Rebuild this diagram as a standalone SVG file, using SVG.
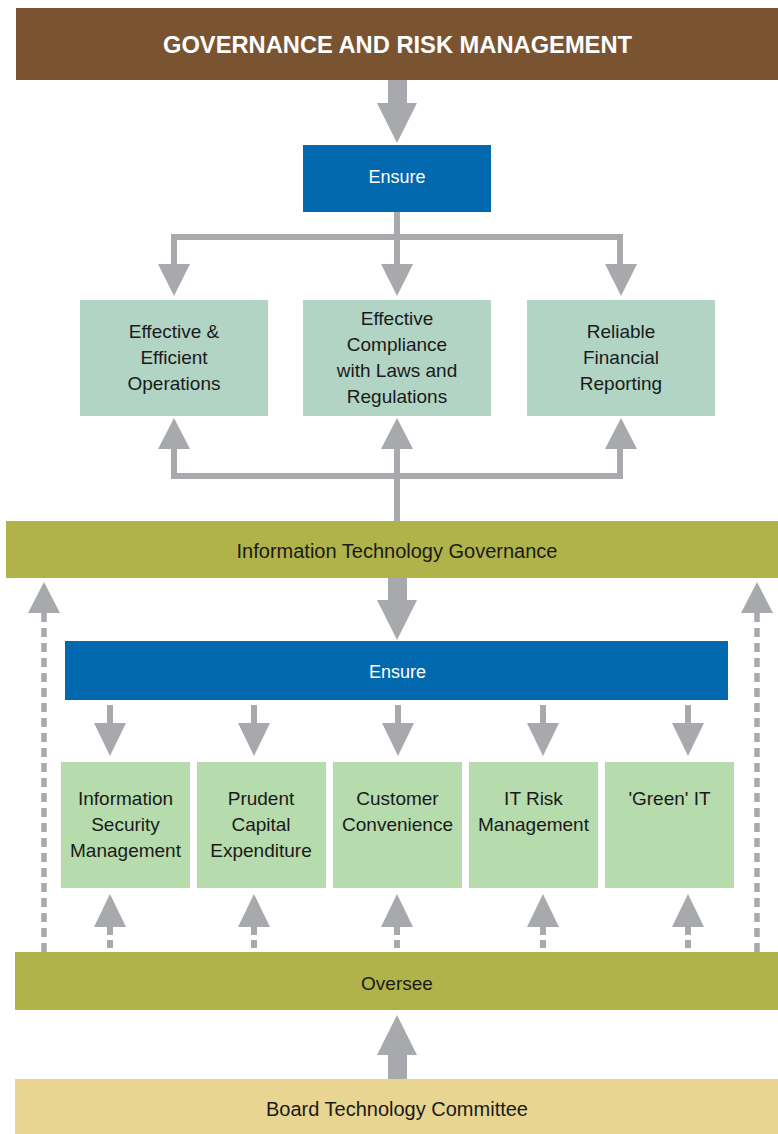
<svg xmlns="http://www.w3.org/2000/svg" width="778" height="1134" viewBox="0 0 778 1134">
<style>
.t{font-family:"Liberation Sans",Arial,sans-serif;text-anchor:middle}
.w{fill:#ffffff}
.k{fill:#1a1a1a}
.ln{stroke:#a7a9ac;stroke-width:6;fill:none}
.ds{stroke:#a7a9ac;stroke-width:5.5;fill:none;stroke-dasharray:9 6}
.ds2{stroke:#a7a9ac;stroke-width:6;fill:none;stroke-dasharray:8 5}
.hd{fill:#a7a9ac}
.mint{fill:#b1d4c5}
.lg{fill:#b6dbac}
.olive{fill:#afb34a}
.blue{fill:#0369ae}
</style>
<rect width="778" height="1134" fill="#ffffff"/>

<g id="connectors">
  <!-- governance to ensure -->
  <rect class="hd" x="388" y="80" width="19" height="24"/>
  <polygon class="hd" points="377,103 417,103 397,143"/>
  <!-- ensure to three objectives -->
  <polyline class="ln" points="174,265 174,237 620,237 620,265"/>
  <line class="ln" x1="397" y1="212" x2="397" y2="265"/>
  <polygon class="hd" points="158,264 190,264 174,296"/>
  <polygon class="hd" points="381,264 413,264 397,296"/>
  <polygon class="hd" points="605,264 637,264 621,296"/>
  <!-- ITG up to three objectives -->
  <polyline class="ln" points="174,448 174,476 620,476 620,448"/>
  <line class="ln" x1="397" y1="523" x2="397" y2="448"/>
  <polygon class="hd" points="158,449 190,449 174,418"/>
  <polygon class="hd" points="381,449 413,449 397,418"/>
  <polygon class="hd" points="605,449 637,449 621,418"/>
  <!-- ITG to ensure 2 -->
  <rect class="hd" x="388" y="578" width="19" height="23"/>
  <polygon class="hd" points="377,600 417,600 397,640"/>
  <!-- side dashed arrows -->
  <line class="ds" x1="44" y1="613" x2="44" y2="955"/>
  <polygon class="hd" points="28,613 60,613 44,582"/>
  <line class="ds" x1="757" y1="613" x2="757" y2="955"/>
  <polygon class="hd" points="741,613 773,613 757,582"/>
  <!-- ensure 2 down arrows -->
  <g>
    <line class="ln" x1="110" y1="705" x2="110" y2="724"/>
    <polygon class="hd" points="94,723 126,723 110,756"/>
    <line class="ln" x1="254" y1="705" x2="254" y2="724"/>
    <polygon class="hd" points="238,723 270,723 254,756"/>
    <line class="ln" x1="398" y1="705" x2="398" y2="724"/>
    <polygon class="hd" points="382,723 414,723 398,756"/>
    <line class="ln" x1="543" y1="705" x2="543" y2="724"/>
    <polygon class="hd" points="527,723 559,723 543,756"/>
    <line class="ln" x1="688" y1="705" x2="688" y2="724"/>
    <polygon class="hd" points="672,723 704,723 688,756"/>
  </g>
  <!-- oversee up dashed arrows -->
  <g>
    <line class="ds2" x1="110" y1="927" x2="110" y2="952"/>
    <polygon class="hd" points="94,927 126,927 110,894"/>
    <line class="ds2" x1="254" y1="927" x2="254" y2="952"/>
    <polygon class="hd" points="238,927 270,927 254,894"/>
    <line class="ds2" x1="397" y1="927" x2="397" y2="952"/>
    <polygon class="hd" points="381,927 413,927 397,894"/>
    <line class="ds2" x1="543" y1="927" x2="543" y2="952"/>
    <polygon class="hd" points="527,927 559,927 543,894"/>
    <line class="ds2" x1="688" y1="927" x2="688" y2="952"/>
    <polygon class="hd" points="672,927 704,927 688,894"/>
  </g>
  <!-- board to oversee -->
  <rect class="hd" x="388" y="1054" width="19" height="25"/>
  <polygon class="hd" points="377,1055 417,1055 397,1015"/>
</g>

<g id="governance">
  <rect x="16" y="8" width="762" height="72" fill="#7a5431"/>
  <text class="t w" x="397.5" y="53" font-size="24" font-weight="bold" textLength="469" lengthAdjust="spacingAndGlyphs">GOVERNANCE AND RISK MANAGEMENT</text>
</g>

<g id="ensure1">
  <rect class="blue" x="303" y="145" width="188" height="67"/>
  <text class="t w" x="397" y="183" font-size="18">Ensure</text>
</g>

<g id="operations">
  <rect class="mint" x="80" y="300" width="188" height="116"/>
  <text class="t k" font-size="19"><tspan x="174" y="338">Effective &amp;</tspan><tspan x="174" y="364">Efficient</tspan><tspan x="174" y="390">Operations</tspan></text>
</g>

<g id="compliance">
  <rect class="mint" x="303" y="300" width="188" height="116"/>
  <text class="t k" font-size="19"><tspan x="397" y="325">Effective</tspan><tspan x="397" y="351">Compliance</tspan><tspan x="397" y="377">with Laws and</tspan><tspan x="397" y="403">Regulations</tspan></text>
</g>

<g id="financial">
  <rect class="mint" x="527" y="300" width="188" height="116"/>
  <text class="t k" font-size="19"><tspan x="621" y="338">Reliable</tspan><tspan x="621" y="364">Financial</tspan><tspan x="621" y="390">Reporting</tspan></text>
</g>

<g id="itg">
  <rect class="olive" x="6" y="521" width="772" height="57"/>
  <text class="t k" x="397" y="558" font-size="20">Information Technology Governance</text>
</g>

<g id="ensure2">
  <rect class="blue" x="65" y="641" width="663" height="59"/>
  <text class="t w" x="397.5" y="678" font-size="18">Ensure</text>
</g>

<g id="infosec">
  <rect class="lg" x="61" y="762" width="129" height="126"/>
  <text class="t k" font-size="19"><tspan x="125.5" y="805">Information</tspan><tspan x="125.5" y="831">Security</tspan><tspan x="125.5" y="857">Management</tspan></text>
</g>

<g id="capex">
  <rect class="lg" x="197" y="762" width="129" height="126"/>
  <text class="t k" font-size="19"><tspan x="261" y="805">Prudent</tspan><tspan x="261" y="831">Capital</tspan><tspan x="261" y="857">Expenditure</tspan></text>
</g>

<g id="customer">
  <rect class="lg" x="333" y="762" width="129" height="126"/>
  <text class="t k" font-size="19"><tspan x="397.5" y="805">Customer</tspan><tspan x="397.5" y="831">Convenience</tspan></text>
</g>

<g id="itrisk">
  <rect class="lg" x="469" y="762" width="129" height="126"/>
  <text class="t k" font-size="19"><tspan x="533.5" y="805">IT Risk</tspan><tspan x="533.5" y="831">Management</tspan></text>
</g>

<g id="greenit">
  <rect class="lg" x="605" y="762" width="129" height="126"/>
  <text class="t k" x="669.5" y="805" font-size="19">'Green' IT</text>
</g>

<g id="oversee">
  <rect class="olive" x="15" y="952" width="763" height="58"/>
  <text class="t k" x="397" y="990" font-size="19">Oversee</text>
</g>

<g id="board">
  <rect x="15" y="1079" width="763" height="55" fill="#e8d591"/>
  <text class="t k" x="397" y="1116" font-size="20">Board Technology Committee</text>
</g>
</svg>
